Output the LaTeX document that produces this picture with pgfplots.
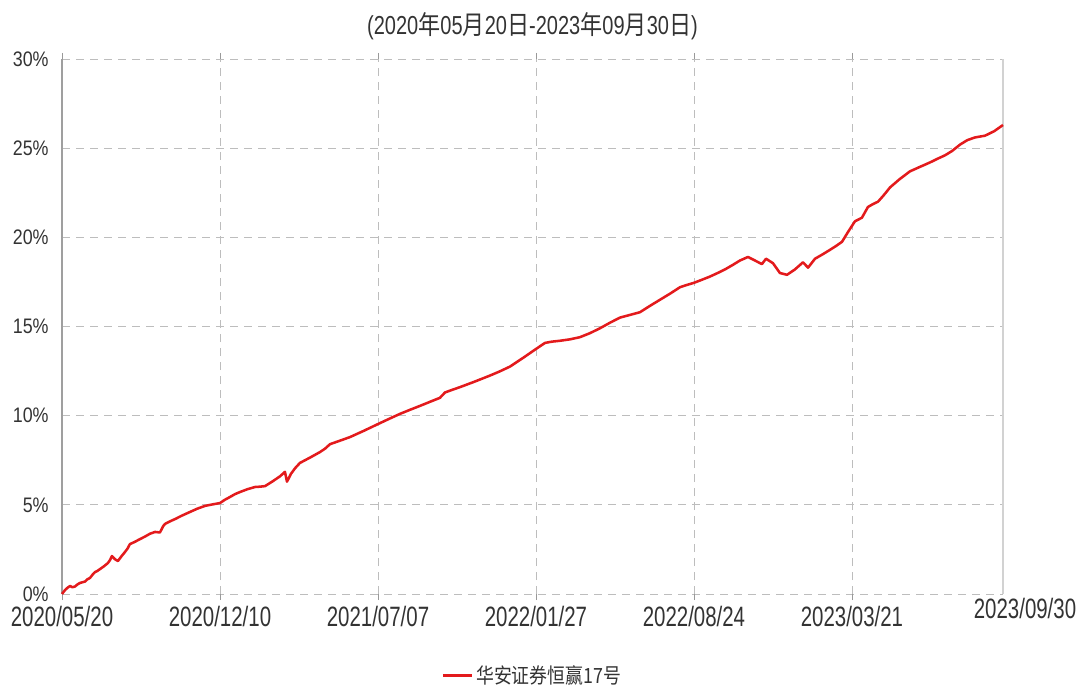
\documentclass[border=0pt]{standalone}
\usepackage{pgfplots}
\pgfplotsset{compat=1.18}
\usepackage{fontspec}
\setmainfont{Liberation Sans}
\newfontfamily\xlab{Liberation Sans}[FakeStretch=0.73]
\newfontfamily\ylab{Liberation Sans}[FakeStretch=0.85]
\newfontfamily\ttl{Liberation Sans}[FakeStretch=0.77]
\newfontfamily\cjkt{Noto Sans CJK SC}[FakeStretch=0.85]
\newfontfamily\cjk{Noto Sans CJK SC}[FakeStretch=0.85]
\definecolor{txt}{HTML}{333333}
\definecolor{gridc}{HTML}{BDBDBD}
\definecolor{lred}{HTML}{E31A1C}
\pgfplotstableread{
x y
0.000 0
0.019 0.22
0.035 0.35
0.051 0.45
0.065 0.38
0.082 0.42
0.100 0.55
0.114 0.62
0.130 0.66
0.146 0.70
0.160 0.82
0.177 0.90
0.195 1.10
0.209 1.23
0.225 1.30
0.241 1.40
0.265 1.55
0.291 1.74
0.305 1.92
0.316 2.13
0.335 1.95
0.354 1.85
0.375 2.10
0.399 2.36
0.415 2.55
0.430 2.80
0.460 2.92
0.494 3.08
0.525 3.22
0.557 3.38
0.589 3.48
0.620 3.45
0.640 3.80
0.652 3.93
0.685 4.08
0.715 4.20
0.760 4.40
0.810 4.60
0.855 4.78
0.905 4.94
0.950 5.02
1.000 5.10
1.030 5.28
1.063 5.44
1.095 5.60
1.127 5.72
1.175 5.88
1.222 6.00
1.255 6.02
1.285 6.05
1.330 6.30
1.380 6.60
1.411 6.85
1.424 6.30
1.450 6.75
1.475 7.05
1.506 7.35
1.570 7.65
1.633 7.96
1.665 8.15
1.696 8.40
1.760 8.60
1.823 8.80
1.910 9.15
2.000 9.53
2.070 9.82
2.139 10.10
2.200 10.32
2.266 10.55
2.330 10.78
2.392 11.00
2.424 11.30
2.470 11.45
2.519 11.60
2.615 11.92
2.709 12.25
2.770 12.48
2.835 12.75
2.920 13.25
3.000 13.74
3.057 14.08
3.100 14.15
3.152 14.20
3.215 14.28
3.278 14.40
3.340 14.62
3.405 14.90
3.470 15.22
3.532 15.50
3.595 15.65
3.658 15.80
3.720 16.15
3.785 16.50
3.850 16.85
3.911 17.20
3.955 17.33
4.000 17.45
4.050 17.62
4.101 17.80
4.150 18.00
4.196 18.20
4.245 18.45
4.291 18.70
4.342 18.90
4.386 18.70
4.430 18.50
4.456 18.80
4.500 18.55
4.544 18.00
4.589 17.90
4.639 18.20
4.690 18.60
4.722 18.30
4.766 18.80
4.815 19.05
4.861 19.30
4.900 19.52
4.937 19.75
4.975 20.30
5.019 20.90
5.063 21.10
5.101 21.70
5.130 21.85
5.165 22.00
5.200 22.35
5.241 22.80
5.300 23.25
5.367 23.70
5.430 23.95
5.494 24.20
5.540 24.40
5.589 24.60
5.635 24.85
5.684 25.20
5.730 25.45
5.778 25.60
5.842 25.70
5.900 25.95
5.956 26.30
}\datatable
\begin{document}
\begin{tikzpicture}[x=1pt,y=1pt]
\useasboundingbox (-46.5,-69) rectangle (763.5,445.5);
\begin{axis}[
  at={(0,0)}, anchor=south west,
  scale only axis,
  width=705.75pt, height=401.25pt,
  xmin=0, xmax=5.956,
  ymin=0, ymax=30,
  axis line style={draw=none},
  grid=major,
  major grid style={gridc, line width=0.6pt, dash pattern=on 6pt off 4.5pt},
  xtick={0,1,2,3,4,5},
  xticklabels={2020/05/20,2020/12/10,2021/07/07,2022/01/27,2022/08/24,2023/03/21},
  extra x ticks={5.956},
  extra x tick labels={2023/09/30},
  extra x tick style={grid=none, major tick length=0pt, xtick style={draw=none}, xticklabel style={xshift=16.5pt, yshift=1.5pt}},
  tick align=outside,
  xtick style={draw=gray!80, line width=0.6pt},
  major tick length=4.5pt,
  ytick={0,5,10,15,20,25,30},
  yticklabels={0\%,5\%,10\%,15\%,20\%,25\%,30\%},
  ytick style={draw=none},
  xticklabel style={font=\xlab\fontsize{21}{24}\selectfont, text=txt, anchor=center, yshift=-12pt},
  yticklabel style={font=\ylab\fontsize{15.75}{18}\selectfont, text=txt, anchor=east, xshift=-2pt},
  legend style={at={(0.5,0)}, anchor=center, yshift=-61pt, draw=none, fill=none,
    font=\cjk\fontsize{15.75}{18}\selectfont, text=txt},
  legend image code/.code={\draw[lred, line width=2.4pt] (0pt,0pt) -- (21.75pt,0pt);},
  clip=false,
]
\draw[gray!75, line width=0.8pt] (rel axis cs:0,0) -- (rel axis cs:0,1);
\draw[gray!35, line width=0.8pt] (rel axis cs:1,0) -- (rel axis cs:1,1);
\addplot[lred, line width=1.9pt, line join=round] table[x=x,y=y]{\datatable};
\addlegendentry{华安证券恒赢17号}
\node[text=txt, font=\fontsize{19.5}{22}\selectfont] at (rel axis cs:0.5,1) [yshift=24.75pt]
  {\ttl(2020\cjkt 年\ttl 05\cjkt 月\ttl 20\cjkt 日\ttl -2023\cjkt 年\ttl 09\cjkt 月\ttl 30\cjkt 日\ttl )};
\end{axis}
\end{tikzpicture}
\end{document}
